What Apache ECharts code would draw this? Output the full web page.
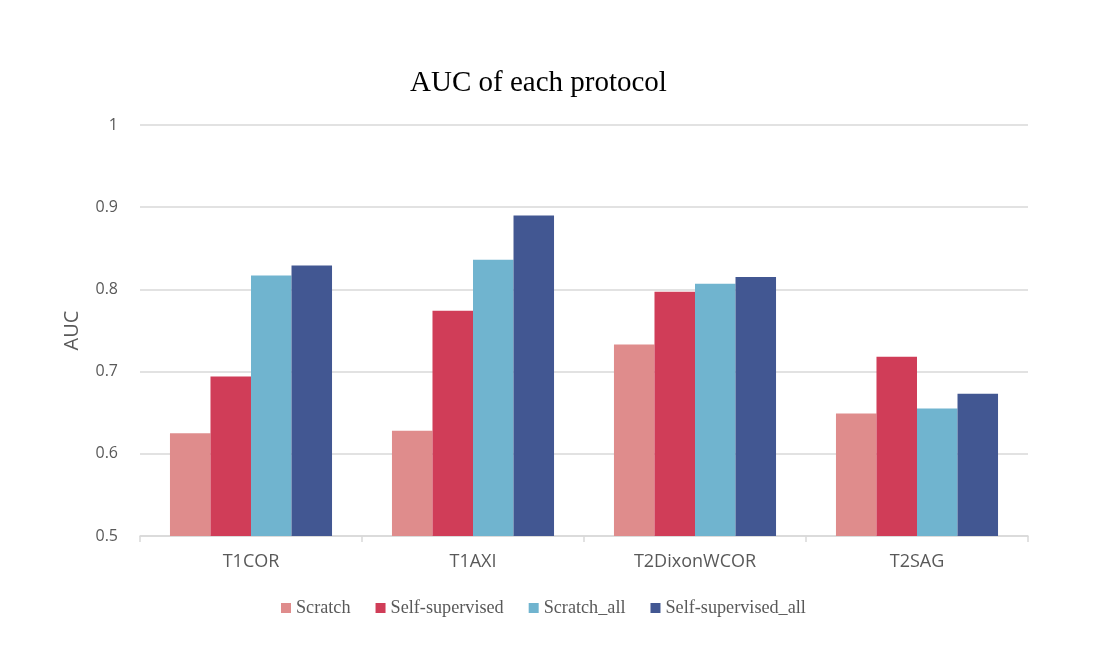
<!DOCTYPE html>
<html>
<head>
<meta charset="utf-8">
<script src="https://cdn.jsdelivr.net/npm/echarts@6/dist/echarts.min.js"></script>
<style>html,body{margin:0;padding:0;background:#fff}#c{width:1097px;height:666px}</style>
</head>
<body>
<div id="c"></div>
<script>
const categories = ['T1COR', 'T1AXI', 'T2DixonWCOR', 'T2SAG'];
const seriesNames = ['Scratch', 'Self-supervised', 'Scratch_all', 'Self-supervised_all'];
const scratch = [0.625, 0.628, 0.733, 0.649];
const selfSupervised = [0.694, 0.774, 0.797, 0.718];
const scratchAll = [0.817, 0.836, 0.807, 0.655];
const selfSupervisedAll = [0.829, 0.890, 0.815, 0.673];
const colors = ['#df8c8c', '#d03d58', '#70b4cf', '#425792'];
const values = [scratch, selfSupervised, scratchAll, selfSupervisedAll];

const chart = echarts.init(document.getElementById('c'));
chart.setOption({
  animation: false,
  title: {
    text: 'AUC of each protocol',
    left: 405, top: 64,
    textStyle: { fontFamily: 'Liberation Serif', fontSize: 29, fontWeight: 'normal', color: '#000' }
  },
  legend: {
    data: seriesNames,
    top: 594, left: 276,
    icon: 'rect', itemWidth: 10, itemHeight: 10, itemGap: 25,
    textStyle: { fontFamily: 'Liberation Serif', fontSize: 18.2, color: '#595959' }
  },
  grid: { left: 140, right: 69, top: 125, bottom: 130, containLabel: false },
  xAxis: {
    type: 'category', data: categories,
    axisLine: { lineStyle: { color: '#d9d9d9', width: 1.5 } },
    axisTick: { show: true, length: 6, lineStyle: { color: '#d9d9d9', width: 1.5 } },
    axisLabel: { fontFamily: 'Open Sans', fontSize: 18, color: '#595959', margin: 17 }
  },
  yAxis: {
    type: 'value', min: 0.5, max: 1, interval: 0.1,
    name: 'AUC', nameLocation: 'middle', nameGap: 58, nameRotate: 90,
    nameTextStyle: { fontFamily: 'Open Sans', fontSize: 20, color: '#595959' },
    axisLine: { show: false }, axisTick: { show: false },
    axisLabel: { fontFamily: 'Open Sans', fontSize: 16, color: '#595959', margin: 22,
      formatter: v => (Math.round(v * 10) / 10).toString() },
    splitLine: { lineStyle: { color: '#d9d9d9', width: 1.5 } }
  },
  series: seriesNames.map((n, i) => ({
    name: n, type: 'bar', data: values[i],
    barGap: '0%', barCategoryGap: '27%',
    itemStyle: { color: colors[i] }
  }))
});
</script>
</body>
</html>
